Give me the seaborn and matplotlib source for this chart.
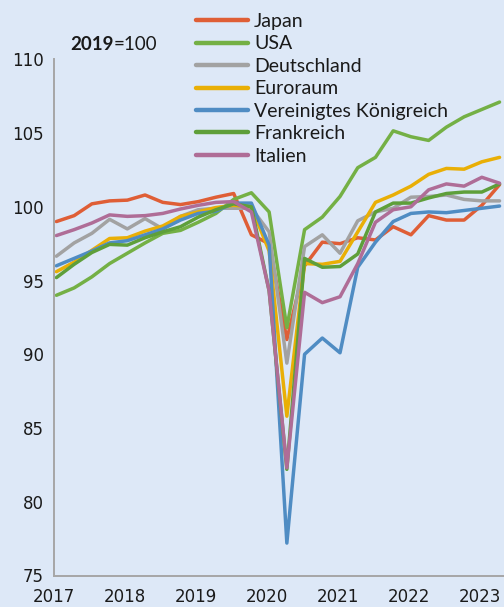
import matplotlib
matplotlib.use("Agg")
import matplotlib.pyplot as plt
import numpy as np
import pandas as pd
import seaborn as sns

# quarterly GDP index, 2019 = 100, 2017Q1 .. 2023Q2
QUARTER_INDEX = list(range(26))

JAPAN = [99.0, 99.4, 100.2, 100.4, 100.45, 100.8, 100.3, 100.15, 100.35, 100.65,
         100.9, 98.1, 97.5, 91.0, 96.0, 97.6, 97.5, 97.9, 97.75, 98.65,
         98.1, 99.4, 99.1, 99.1, 100.1, 101.5]
USA = [94.0, 94.5, 95.25, 96.15, 96.85, 97.55, 98.2, 98.4, 98.95, 99.55,
       100.5, 100.95, 99.65, 91.8, 98.45, 99.3, 100.7, 102.65, 103.35, 105.15,
       104.75, 104.5, 105.4, 106.1, 106.6, 107.1]
DEUTSCHLAND = [96.65, 97.55, 98.2, 99.15, 98.5, 99.2, 98.5, 99.35, 99.8, 99.9,
               99.9, 99.9, 98.3, 89.4, 97.3, 98.1, 96.85, 99.05, 99.65, 99.9,
               100.65, 100.7, 100.8, 100.5, 100.4, 100.4]
EURORAUM = [95.6, 96.25, 97.05, 97.85, 97.9, 98.35, 98.7, 99.35, 99.65, 99.95,
            100.1, 100.0, 97.0, 85.8, 96.15, 96.1, 96.3, 98.3, 100.3, 100.8,
            101.4, 102.2, 102.6, 102.55, 103.05, 103.35]
VEREINIGTES_KOENIGREICH = [96.0, 96.5, 97.0, 97.55, 97.7, 98.1, 98.5, 99.1, 99.55, 99.7,
                           100.25, 100.25, 97.4, 77.2, 90.0, 91.1, 90.1, 95.9, 97.6, 99.0,
                           99.55, 99.65, 99.6, 99.75, 99.9, 100.05]
FRANKREICH = [95.2, 96.1, 96.9, 97.45, 97.4, 97.9, 98.3, 98.65, 99.3, 99.8,
              100.2, 100.0, 94.3, 82.2, 96.5, 95.9, 95.95, 96.8, 99.65, 100.25,
              100.25, 100.6, 100.9, 101.0, 101.0, 101.55]
ITALIEN = [98.05, 98.45, 98.9, 99.45, 99.35, 99.4, 99.55, 99.85, 100.1, 100.3,
           100.35, 99.65, 94.3, 82.3, 94.2, 93.5, 93.9, 96.15, 98.95, 99.8,
           100.0, 101.15, 101.55, 101.4, 102.0, 101.6]

SERIES = {
    "Japan": JAPAN,
    "USA": USA,
    "Deutschland": DEUTSCHLAND,
    "Euroraum": EURORAUM,
    "Vereinigtes Königreich": VEREINIGTES_KOENIGREICH,
    "Frankreich": FRANKREICH,
    "Italien": ITALIEN,
}
COLORS = ["#DF5E36", "#74B045", "#A2A2A2", "#E9AF06", "#4F8CC3", "#5E9F3A", "#AF6D97"]
YEAR_TICKS = list(range(2017, 2024))

BG = "#DDE8F7"
AXIS_GRAY = "#A6A6A6"
TEXT_FONT = ["Lato", "DejaVu Sans"]

frames = []
for name, values in SERIES.items():
    frames.append(pd.DataFrame({
        "t": 2017.03 + np.array(QUARTER_INDEX) * 0.25,
        "value": values,
        "country": name,
    }))
df = pd.concat(frames, ignore_index=True)

sns.set_style("white")
plt.rcParams["font.family"] = ["DejaVu Sans"]

fig = plt.figure(figsize=(5.04, 6.07), dpi=100, facecolor=BG)
ax = fig.add_axes([54.3 / 504, 1 - 575.5 / 607, 1 - 54.3 / 504, (575.5 - 59.3) / 607])
ax.set_facecolor(BG)

sns.lineplot(data=df, x="t", y="value", hue="country", palette=COLORS,
             linewidth=2.5, ax=ax, legend=True)

ax.set_xlim(2017, 2017 + (504 - 54.3) / 70.9)
ax.set_ylim(75, 110)
ax.set_xticks(YEAR_TICKS)
ax.set_xticklabels([str(y) for y in YEAR_TICKS])
ax.set_yticks(range(75, 111, 5))
ax.set_xlabel("")
ax.set_ylabel("")

for side in ["top", "right"]:
    ax.spines[side].set_visible(False)
for side in ["left", "bottom"]:
    ax.spines[side].set_color(AXIS_GRAY)
    ax.spines[side].set_linewidth(1.4)
ax.tick_params(axis="both", colors=AXIS_GRAY, length=6, width=1.2, labelsize=12,
               labelcolor="#1a1a1a", direction="out")
ax.tick_params(axis="y", pad=1.5)
ax.tick_params(axis="x", pad=3)

handles, labels = ax.get_legend_handles_labels()
for h in handles:
    h.set_linewidth(3.2)
leg = ax.legend(handles, labels, loc="upper left", bbox_to_anchor=(196 / 504, 1 - 13 / 607),
                bbox_transform=fig.transFigure, frameon=False, borderpad=0, borderaxespad=0,
                handlelength=2.65, handletextpad=0.33, labelspacing=0.28,
                prop={"family": TEXT_FONT, "size": 14})
for t in leg.get_texts():
    t.set_color("#1a1a1a")

# "2019=100" with the year in bold
bold = fig.text(70 / 504, 1 - 44 / 607, "2019", fontsize=13.5, va="center", ha="left",
                family=TEXT_FONT, fontweight="bold", color="#1a1a1a")
fig.canvas.draw()
bb = bold.get_window_extent()
fig.text(bb.x1 / fig.bbox.width, 1 - 44 / 607, "=100", fontsize=13.5, va="center", ha="left",
         family=TEXT_FONT, color="#1a1a1a")

fig.savefig("out.png", dpi=100, facecolor=BG)
